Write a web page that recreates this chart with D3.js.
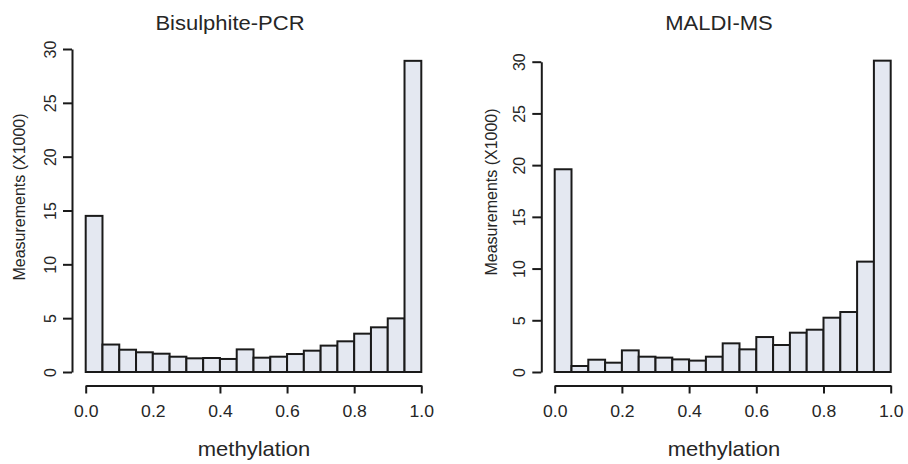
<!DOCTYPE html>
<html>
<head>
    <title>Methylation histograms</title>
    <script src="https://cdnjs.cloudflare.com/ajax/libs/d3/7.8.5/d3.min.js"></script>
    <style>
        body { margin: 0; background: #fff; }
        svg { display: block; }
        text { font-family: "Liberation Sans", Arial, sans-serif; fill: #262626; }
        .bar { fill: #e4e8f1; stroke: #1a1a1a; stroke-width: 2; }
        .axis path, .axis line { stroke: #1a1a1a; stroke-width: 2; }
        .axis text { font-size: 16px; }
        .title { font-size: 20px; }
        .xlabel { font-size: 20px; }
        .ylabel { font-size: 16px; }
    </style>
</head>
<body>
    <div id="chart"></div>
    <script>
        // bin starts (width 0.05) on the methylation axis
        const binStarts = [0.00, 0.05, 0.10, 0.15, 0.20, 0.25, 0.30, 0.35, 0.40, 0.45,
                           0.50, 0.55, 0.60, 0.65, 0.70, 0.75, 0.80, 0.85, 0.90, 0.95];
        const binWidth = 0.05;

        // measurements (x1000) per bin
        const bisulphiteCounts = [14.5, 2.55, 2.07, 1.83, 1.70, 1.42, 1.27, 1.30, 1.21, 2.10,
                                  1.33, 1.42, 1.67, 1.98, 2.45, 2.85, 3.56, 4.15, 4.98, 28.9];
        const maldiCounts = [19.6, 0.58, 1.19, 0.90, 2.09, 1.48, 1.39, 1.22, 1.10, 1.48,
                             2.77, 2.19, 3.38, 2.61, 3.80, 4.09, 5.25, 5.80, 10.67, 30.1];

        const xTicks = [0, 0.2, 0.4, 0.6, 0.8, 1.0];
        const yTicks = [0, 5, 10, 15, 20, 25, 30];

        const panelTitles = ['Bisulphite-PCR', 'MALDI-MS'];
        const xLabel = 'methylation';
        const yLabel = 'Measurements (X1000)';

        const width = 908, height = 464;
        const stretch = 1.1; // the source image is a bit wider than tall

        const svg = d3.select('#chart')
            .append('svg')
            .attr('width', width)
            .attr('height', height);

        // panel layout (pixel frame of each plot)
        const panels = [
            { title: panelTitles[0], values: bisulphiteCounts,
              x0: 85.7, x1: 421.3, yTop: 49, yBottom: 372,
              titleX: 230, labelX: 254, yAxisX: 72, yLabelX: 19, yLabelY: 197 },
            { title: panelTitles[1], values: maldiCounts,
              x0: 554.7, x1: 890.7, yTop: 61.7, yBottom: 372,
              titleX: 719, labelX: 724, yAxisX: 541.3, yLabelX: 491, yLabelY: 192 }
        ];

        const xAxisY = 385.5;

        panels.forEach(p => {
            const xScale = d3.scaleLinear().domain([0, 1]).range([p.x0, p.x1]);
            const yScale = d3.scaleLinear().domain([0, 30]).range([p.yBottom, p.yTop]);

            const g = svg.append('g');

            // histogram bars
            g.selectAll('.bar')
                .data(binStarts.map((b, i) => ({ start: b, value: p.values[i] })))
                .enter()
                .append('rect')
                .attr('class', 'bar')
                .attr('x', d => xScale(d.start))
                .attr('y', d => yScale(d.value))
                .attr('width', d => xScale(d.start + binWidth) - xScale(d.start))
                .attr('height', d => yScale(0) - yScale(d.value));

            // x axis
            const xAxis = g.append('g')
                .attr('class', 'axis')
                .attr('transform', `translate(0,${xAxisY})`)
                .call(d3.axisBottom(xScale)
                    .tickValues(xTicks)
                    .tickSize(8)
                    .tickSizeOuter(0)
                    .tickPadding(12)
                    .tickFormat(d3.format('.1f')));
            xAxis.selectAll('text')
                .attr('fill', '#262626')
                .attr('transform', `scale(${stretch},1)`)
                .attr('x', 0);
            xAxis.selectAll('.tick text')
                .each(function () { d3.select(this).attr('transform', `scale(${stretch},1)`); });

            // y axis, labels rotated like base R
            const yAxis = g.append('g')
                .attr('class', 'axis')
                .attr('transform', `translate(${p.yAxisX},0)`)
                .call(d3.axisLeft(yScale)
                    .tickValues(yTicks)
                    .tickSize(9)
                    .tickSizeOuter(0)
                    .tickFormat(d3.format('d')));
            yAxis.selectAll('text')
                .attr('x', null)
                .attr('dy', null)
                .attr('fill', '#262626')
                .attr('text-anchor', 'middle')
                .attr('dominant-baseline', 'central')
                .attr('transform', 'translate(-22,0) rotate(-90)');

            // title
            svg.append('text')
                .attr('class', 'title')
                .attr('transform', `translate(${p.titleX},30) scale(${stretch},1)`)
                .attr('text-anchor', 'middle')
                .text(p.title);

            // x label
            svg.append('text')
                .attr('class', 'xlabel')
                .attr('transform', `translate(${p.labelX},456) scale(${stretch},1)`)
                .attr('text-anchor', 'middle')
                .text(xLabel);

            // y label
            svg.append('text')
                .attr('class', 'ylabel')
                .attr('transform', `translate(${p.yLabelX},${p.yLabelY}) rotate(-90)`)
                .attr('text-anchor', 'middle')
                .attr('dominant-baseline', 'central')
                .text(yLabel);
        });
    </script>
</body>
</html>
